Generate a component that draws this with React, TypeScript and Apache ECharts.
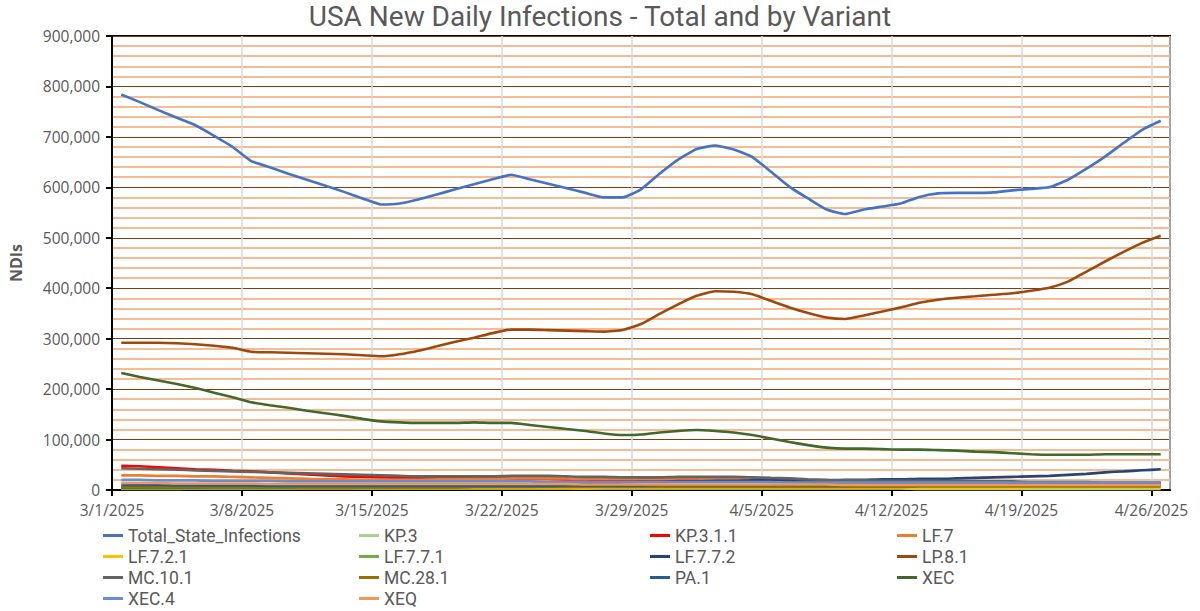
import React, { useEffect, useRef } from "react";
import * as echarts from "echarts";

const startDate = { month: 3, day: 1, year: 2025 };
const dayCount = 57;
const tickLabelsNote = "3/1/2025 … 4/26/2025 every 7 days";

const seriesNames = [
  "Total_State_Infections", "KP.3", "KP.3.1.1", "LF.7",
  "LF.7.2.1", "LF.7.7.1", "LF.7.7.2", "LP.8.1",
  "MC.10.1", "MC.28.1", "PA.1", "XEC",
  "XEC.4", "XEQ",
];

const seriesColors = [
  "#4472C4", "#A9D18E", "#FF0000", "#ED7D31",
  "#FFC000", "#70AD47", "#264478", "#9E480E",
  "#636363", "#997300", "#255E91", "#43682B",
  "#698ED0", "#F1975A",
];

// values in thousands, one per day 3/1/2025 .. 4/26/2025
const totalK = [784, 769, 753, 738, 723, 702, 680, 652, 640, 627, 615, 603, 591, 578, 566, 568, 576, 586, 596, 606, 616, 625, 616, 607, 598, 589, 580, 580, 596, 627, 655, 676, 683, 675, 660, 631, 601, 578, 556, 547, 556, 562, 568, 581, 588, 589, 589, 590, 594, 597, 600, 615, 637, 661, 688, 714, 732];
const kp3K = [6, 6, 6, 6, 6, 5, 5, 5, 5, 5, 5, 5, 5, 4, 4, 4, 4, 4, 4, 4, 4, 4, 4, 4, 4, 3, 3, 3, 3, 3, 3, 3, 3, 3, 3, 3, 3, 3, 3, 3, 3, 3, 3, 2, 2, 2, 2, 2, 2, 2, 2, 2, 2, 2, 2, 2, 2];
const kp311K = [48, 47, 45, 43, 41, 40, 38, 37, 35, 33, 31, 29, 27, 26, 25, 24, 24, 24, 23, 23, 23, 23, 22, 22, 21, 21, 20, 20, 20, 20, 20, 19, 19, 18, 18, 17, 16, 15, 14, 13, 13, 12, 12, 12, 11, 11, 11, 10, 10, 10, 10, 9, 9, 9, 9, 9, 9];
const lf7K = [29, 29, 28, 28, 27, 27, 26, 25, 24, 23, 22, 21, 21, 20, 20, 20, 20, 21, 21, 22, 22, 23, 23, 23, 23, 22, 22, 22, 22, 22, 23, 23, 22, 22, 21, 20, 19, 18, 17, 17, 16, 16, 16, 15, 15, 15, 14, 14, 14, 14, 13, 13, 13, 13, 13, 13, 13];
const lf721K = [3, 3, 3, 3, 3, 3, 3, 3, 3, 3, 3, 3, 3, 3, 3, 3, 3, 3, 3, 3, 3, 3, 3, 3, 3, 3, 4, 4, 4, 4, 4, 4, 4, 4, 4, 4, 4, 4, 4, 4, 4, 4, 4, 4, 4, 4, 4, 4, 4, 5, 5, 5, 5, 5, 5, 5, 5];
const lf771K = [2, 2, 2, 2, 3, 3, 3, 3, 3, 3, 4, 4, 4, 4, 4, 5, 5, 5, 5, 6, 6, 6, 6, 7, 7, 7, 7, 8, 8, 8, 8, 9, 9, 9, 9, 10, 10, 10, 10, 11, 11, 11, 11, 12, 12, 12, 12, 12, 13, 13, 13, 13, 13, 14, 14, 14, 14];
const lf772K = [5, 5, 5, 5, 5, 6, 6, 6, 6, 6, 7, 7, 7, 7, 8, 8, 8, 9, 9, 9, 10, 10, 11, 11, 12, 12, 13, 15, 16, 16, 17, 17, 18, 18, 19, 19, 19, 19, 19, 20, 20, 21, 21, 22, 22, 23, 24, 25, 26, 27, 28, 30, 32, 35, 37, 39, 41];
const lp81K = [292, 292, 292, 291, 289, 286, 282, 274, 273, 272, 271, 270, 269, 267, 265, 269, 276, 285, 294, 302, 311, 318, 318, 317, 316, 315, 314, 317, 329, 349, 368, 385, 394, 393, 388, 375, 362, 351, 342, 339, 346, 354, 362, 371, 377, 381, 384, 387, 390, 395, 401, 413, 433, 453, 472, 490, 504];
const mc101K = [43, 42, 41, 40, 39, 38, 37, 36, 35, 34, 33, 32, 31, 30, 29, 28, 27, 27, 27, 27, 27, 28, 28, 28, 27, 26, 26, 25, 25, 25, 26, 26, 26, 26, 25, 24, 23, 21, 20, 19, 19, 18, 18, 18, 18, 17, 17, 17, 17, 16, 16, 16, 16, 15, 15, 15, 15];
const mc281K = [5, 5, 5, 5, 5, 5, 5, 5, 5, 5, 5, 5, 5, 5, 5, 5, 5, 5, 5, 6, 6, 6, 6, 6, 6, 6, 6, 6, 6, 6, 6, 6, 6, 6, 6, 6, 6, 6, 6, 6, 6, 6, 6, 7, 7, 7, 7, 7, 7, 7, 7, 7, 7, 7, 7, 7, 7];
const pa1K = [10, 10, 10, 9, 9, 9, 9, 9, 8, 8, 8, 8, 8, 8, 8, 8, 8, 8, 8, 8, 8, 8, 8, 8, 9, 9, 9, 9, 9, 10, 10, 10, 10, 10, 10, 10, 10, 10, 10, 10, 11, 11, 11, 11, 11, 11, 11, 11, 11, 11, 11, 12, 12, 12, 12, 12, 12];
const xecK = [232, 224, 217, 210, 202, 193, 184, 174, 168, 163, 157, 152, 147, 141, 136, 134, 133, 133, 133, 134, 133, 133, 129, 125, 121, 117, 112, 109, 110, 114, 117, 119, 117, 114, 109, 102, 95, 89, 84, 82, 82, 81, 80, 80, 79, 78, 76, 75, 73, 71, 70, 70, 70, 71, 71, 71, 71];
const xec4K = [20, 20, 19, 19, 19, 18, 18, 18, 18, 17, 17, 17, 17, 17, 17, 17, 17, 17, 17, 17, 17, 17, 17, 16, 16, 16, 16, 16, 16, 16, 16, 16, 16, 16, 16, 16, 15, 15, 15, 15, 15, 15, 15, 15, 15, 15, 15, 15, 15, 15, 15, 15, 15, 15, 15, 15, 15];
const xeqK = [14, 14, 14, 13, 13, 13, 13, 13, 12, 12, 12, 12, 12, 12, 12, 12, 12, 12, 12, 12, 12, 12, 12, 12, 12, 11, 11, 11, 11, 11, 11, 11, 11, 11, 11, 11, 11, 11, 11, 10, 10, 10, 10, 10, 10, 10, 10, 10, 10, 10, 10, 10, 10, 10, 10, 10, 10];

const seriesValues = [totalK, kp3K, kp311K, lf7K, lf721K, lf771K, lf772K, lp81K, mc101K, mc281K, pa1K, xecK, xec4K, xeqK];

const legendColumns = [
  ["Total_State_Infections", "LF.7.2.1", "MC.10.1", "XEC.4"],
  ["KP.3", "LF.7.7.1", "MC.28.1", "XEQ"],
  ["KP.3.1.1", "LF.7.7.2", "PA.1"],
  ["LF.7", "LP.8.1", "XEC"],
];
const legendLefts = [103, 359, 650, 897];

const FONT = "'Open Sans', Roboto, sans-serif";
const TITLE_FONT = "Roboto, 'Open Sans', sans-serif";
const TEXT_COLOR = "#595959";

function dayLabel(d: number): string {
  const dt = new Date(startDate.year, startDate.month - 1, startDate.day + Math.round(d));
  return `${dt.getMonth() + 1}/${dt.getDate()}/${dt.getFullYear()}`;
}

export default function App() {
  const ref = useRef<HTMLDivElement>(null);
  useEffect(() => {
    if (!ref.current) return;
    const chart = echarts.init(ref.current, undefined, { renderer: "svg" });
    const series = seriesNames.map((name, si) => ({
      name,
      type: "line",
      data: seriesValues[si].map((v, i) => [i + 0.5, v * 1000]),
      showSymbol: false,
      symbol: "none",
      smooth: 0.15,
      lineStyle: { color: seriesColors[si], width: 2.6 },
      itemStyle: { color: seriesColors[si] },
      z: 3,
    }));
    chart.setOption({
      animation: false,
      backgroundColor: "#fff",
      title: {
        text: "USA New Daily Infections - Total and by Variant",
        left: "center",
        top: 0,
        padding: 0,
        textStyle: { fontFamily: TITLE_FONT, fontSize: 28, lineHeight: 33, fontWeight: "normal", color: TEXT_COLOR },
      },
      grid: {
        left: 93, right: 30, top: 36, bottom: 121,
        show: true, borderColor: "#000", borderWidth: 2, backgroundColor: "transparent",
      },
      legend: legendColumns.map((col, ci) => ({
        orient: "vertical",
        left: legendLefts[ci],
        top: 525,
        height: 100,
        padding: 0,
        data: col,
        icon: "rect",
        itemWidth: 20,
        itemHeight: 3,
        itemGap: 0,
        selectedMode: false,
        textStyle: { fontFamily: TITLE_FONT, fontSize: 17.5, lineHeight: 21, color: TEXT_COLOR },
      })),
      xAxis: {
        type: "value",
        min: 0,
        max: dayCount,
        interval: 7,
        axisLine: { show: true, lineStyle: { color: "#000", width: 2 } },
        axisTick: { show: true, length: 6, lineStyle: { color: "#000", width: 2 } },
        axisLabel: {
          showMaxLabel: false,
          formatter: (v: number) => dayLabel(v),
          fontFamily: FONT, fontSize: 15.5, color: TEXT_COLOR, margin: 12,
        },
        splitLine: { show: true, lineStyle: { color: "#D9D9D9", width: 1.5 } },
      },
      yAxis: {
        type: "value",
        min: 0,
        max: 900000,
        interval: 100000,
        name: "NDIs",
        nameLocation: "middle",
        nameGap: 88,
        nameTextStyle: { fontFamily: FONT, fontSize: 16, fontWeight: "bold", color: TEXT_COLOR },
        axisLine: { show: true, lineStyle: { color: "#000", width: 2 } },
        axisTick: { show: true, length: 6, lineStyle: { color: "#000", width: 2 } },
        axisLabel: {
          formatter: (v: number) => v.toLocaleString("en-US"),
          fontFamily: FONT, fontSize: 15.5, color: TEXT_COLOR, margin: 12,
        },
        splitLine: { show: true, lineStyle: { color: "#843C0C", width: 1.2 } },
        minorTick: { show: false, splitNumber: 5 },
        minorSplitLine: { show: true, lineStyle: { color: "#F4A46C", width: 1.6 } },
      },
      series,
    });
    return () => chart.dispose();
  }, []);
  return (
    <div
      ref={ref}
      style={{ position: "absolute", left: 0, top: 0, width: 1200, height: 611 }}
      data-note={tickLabelsNote}
    />
  );
}
